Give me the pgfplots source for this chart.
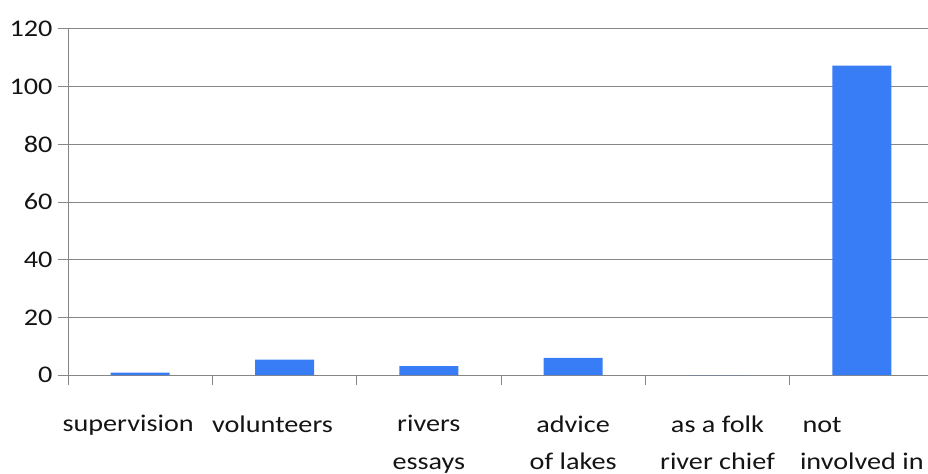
\documentclass[border=0pt]{standalone}
\usepackage{fontspec}
\setmainfont{Carlito}[FakeStretch=1.18]
\usepackage{pgfplots}
\pgfplotsset{compat=1.18}
\definecolor{barblue}{RGB}{56,125,245}
\definecolor{gridgray}{RGB}{134,134,134}
\definecolor{txt}{RGB}{20,20,20}
\begin{document}
\begin{tikzpicture}
\begin{axis}[
  name=ax,
  scale only axis,
  width=866bp, height=346bp,
  xmin=-0.5, xmax=5.5, ymin=0, ymax=120,
  axis x line*=bottom, axis y line*=left,
  axis line style={gridgray, line width=1bp, -},
  ytick={0,20,...,120},
  xtick={0,...,5},
  xticklabels={{\kern-24bp supervision},{\kern-24bp volunteers},{rivers\\essays},{advice\\of lakes},{as a folk\\river chief},{\kern5bp\rlap{not}\phantom{involved in}\\involved in}},
  minor xtick={-0.5,0.5,...,5.5},
  tick align=outside,
  major tick length=10bp,
  minor tick length=10bp,
  major x tick style={draw=none},
  every tick/.style={gridgray, line width=1bp},
  minor tick style={gridgray, line width=1bp},
  ymajorgrids,
  major grid style={gridgray, line width=1bp},
  /pgf/number format/assume math mode=true,
  ticklabel style={font=\fontsize{24}{37.5}\selectfont, text=txt},
  yticklabel style={xshift=-2bp},
  xticklabel style={align=center, anchor=north, yshift=-27bp},
  ybar, bar width=59bp,
]
\addplot[fill=barblue, draw=none] coordinates {(0,0.8) (1,5.3) (2,3.1) (3,5.9) (4,0) (5,107.3)};
\end{axis}
\pgfresetboundingbox
\useasboundingbox ([xshift=-68bp,yshift=-99bp]ax.south west) rectangle ([xshift=860bp,yshift=375bp]ax.south west);
\end{tikzpicture}
\end{document}
